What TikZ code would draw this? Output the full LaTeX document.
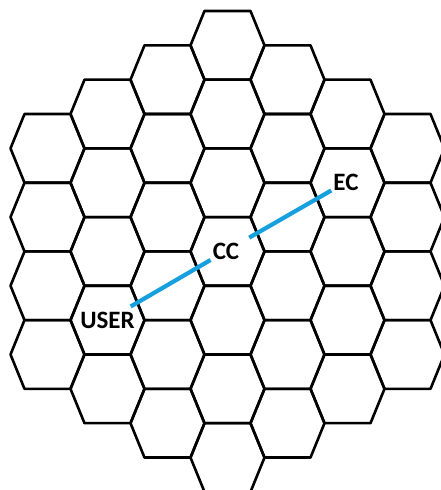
\documentclass[tikz,border=0pt]{standalone}
\usepackage{fontspec}
\newfontfamily\labelfont{Carlito}
\definecolor{linkblue}{RGB}{22,160,222}
\begin{document}
\begin{tikzpicture}[x=1pt,y=1pt,
        cell/.style={draw=black, line width=2.6pt, line join=round},
        link/.style={draw=linkblue, line width=4.2pt},
        tag/.style={font=\labelfont\bfseries\fontsize{25}{30}\selectfont, inner sep=2pt}]
    \useasboundingbox (0,0) rectangle (441,490);
    \clip (0,0) rectangle (441,490);
    % hexagonal cells, seven columns
    \foreach \c in {0,...,6}{
        \pgfmathtruncatemacro{\d}{abs(\c-3)}
        \pgfmathtruncatemacro{\n}{6-\d}
        \foreach \k in {0,...,\n}{
            \pgfmathsetmacro{\cx}{47.5+60*\c}
            \pgfmathsetmacro{\cy}{444.65-34.35*\d-68.7*\k}
            \draw[cell] (\cx,\cy) +(-23,34.35) -- +(23,34.35) -- +(37,0) -- +(23,-34.35) -- +(-23,-34.35) -- +(-37,0) -- cycle;
        }
    }
    \node[tag] (user) at (107.5,170) {USER};
    \node[tag] (cc) at (226,239) {CC};
    \node[tag] (ec) at (346,308) {EC};
    \draw[link, shorten <=6pt] (user) -- (cc);
    \draw[link, shorten <=9pt] (cc) -- (ec);
\end{tikzpicture}
\end{document}
